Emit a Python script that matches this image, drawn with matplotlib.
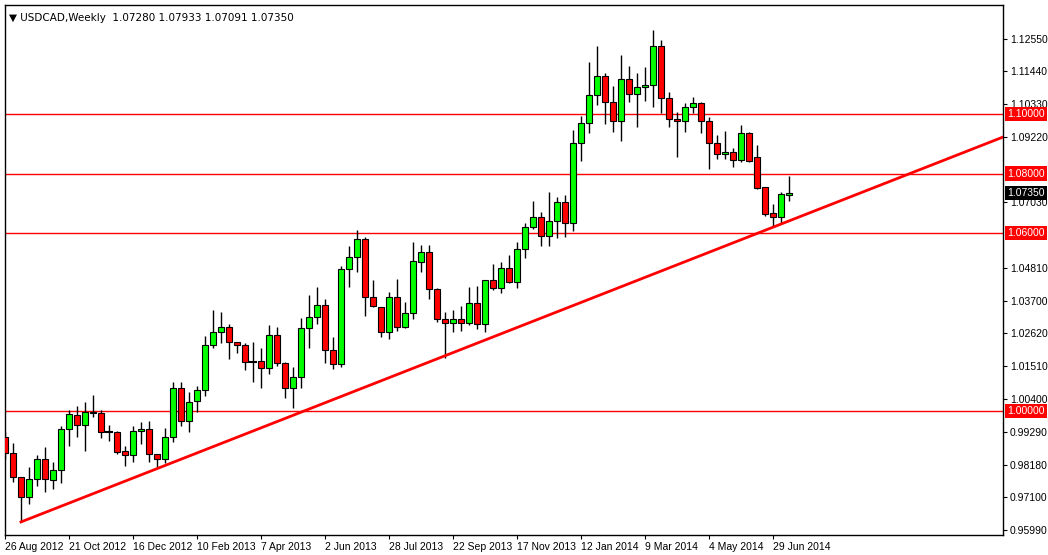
import numpy as np
import matplotlib.pyplot as plt
from matplotlib.patches import Rectangle

# weekly USDCAD candles, 26 Aug 2012 .. 13 Jul 2014
opens = [0.9912, 0.9859, 0.9778, 0.9710, 0.9771, 0.9838, 0.9768, 0.9801, 0.9939, 0.9987,
         0.9953, 0.9997, 0.9993, 0.9929, 0.9929, 0.9865, 0.9852, 0.9933, 0.9939, 0.9855,
         0.9838, 0.9912, 1.0078, 0.9966, 1.0034, 1.0071, 1.0222, 1.0266, 1.0283, 1.0233,
         1.0222, 1.0165, 1.0169, 1.0145, 1.0256, 1.0162, 1.0078, 1.0115, 1.0280, 1.0317,
         1.0357, 1.0206, 1.0158, 1.0479, 1.0519, 1.0580, 1.0384, 1.0351, 1.0266, 1.0384,
         1.0283, 1.0330, 1.0502, 1.0536, 1.0411, 1.0310, 1.0297, 1.0310, 1.0297, 1.0364,
         1.0293, 1.0441, 1.0415, 1.0482, 1.0435, 1.0546, 1.0620, 1.0654, 1.0590, 1.0640,
         1.0704, 1.0634, 1.0903, 1.0971, 1.1065, 1.1129, 1.1041, 1.0977, 1.1119, 1.1068,
         1.1092, 1.1099, 1.1230, 1.1055, 1.0984, 1.0977, 1.1025, 1.1038, 1.0977, 1.0903,
         1.0866, 1.0873, 1.0846, 1.0937, 1.0856, 1.0755, 1.0667, 1.0654, 1.07280]
highs = [0.9929, 0.9892, 0.9779, 0.9811, 0.9852, 0.9879, 0.9828, 0.9950, 1.0003, 1.0017,
         1.0030, 1.0054, 1.0003, 0.9953, 0.9933, 0.9882, 0.9950, 0.9963, 0.9966, 0.9856,
         0.9943, 1.0098, 1.0098, 1.0064, 1.0084, 1.0253, 1.0340, 1.0334, 1.0293, 1.0234,
         1.0229, 1.0233, 1.0212, 1.0290, 1.0283, 1.0165, 1.0148, 1.0313, 1.0391, 1.0418,
         1.0378, 1.0249, 1.0489, 1.0556, 1.0610, 1.0586, 1.0442, 1.0352, 1.0401, 1.0445,
         1.0367, 1.0570, 1.0559, 1.0559, 1.0415, 1.0334, 1.0340, 1.0354, 1.0418, 1.0421,
         1.0442, 1.0495, 1.0502, 1.0526, 1.0570, 1.0634, 1.0708, 1.0671, 1.0738, 1.0721,
         1.0728, 1.0947, 1.0994, 1.1176, 1.1230, 1.1139, 1.1095, 1.1200, 1.1163, 1.1139,
         1.1159, 1.1284, 1.1250, 1.1075, 1.1008, 1.1038, 1.1058, 1.1041, 1.0991, 1.0930,
         1.0944, 1.0886, 1.0964, 1.0941, 1.0896, 1.0756, 1.0698, 1.0738, 1.07933]
lows = [0.9838, 0.9761, 0.9626, 0.9687, 0.9747, 0.9727, 0.9737, 0.9757, 0.9882, 0.9912,
        0.9865, 0.9980, 0.9909, 0.9899, 0.9855, 0.9815, 0.9828, 0.9889, 0.9828, 0.9808,
        0.9825, 0.9896, 0.9950, 0.9929, 0.9997, 1.0051, 1.0212, 1.0229, 1.0175, 1.0196,
        1.0138, 1.0098, 1.0078, 1.0125, 1.0152, 1.0044, 1.0010, 1.0078, 1.0212, 1.0293,
        1.0162, 1.0142, 1.0148, 1.0418, 1.0469, 1.0320, 1.0351, 1.0249, 1.0243, 1.0270,
        1.0280, 1.0310, 1.0469, 1.0378, 1.0300, 1.0179, 1.0266, 1.0270, 1.0290, 1.0276,
        1.0266, 1.0408, 1.0398, 1.0431, 1.0415, 1.0516, 1.0613, 1.0556, 1.0556, 1.0583,
        1.0586, 1.0607, 1.0843, 1.0937, 1.1031, 1.0967, 1.0940, 1.0910, 1.1041, 1.0957,
        1.1045, 1.1025, 1.1004, 1.0957, 1.0856, 1.0940, 1.1004, 1.0937, 1.0816, 1.0849,
        1.0849, 1.0822, 1.0839, 1.0839, 1.0748, 1.0657, 1.0620, 1.0630, 1.07091]
closes = [0.9859, 0.9778, 0.9710, 0.9771, 0.9838, 0.9771, 0.9801, 0.9939, 0.9990, 0.9953,
          0.9997, 0.9993, 0.9929, 0.9926, 0.9862, 0.9852, 0.9933, 0.9939, 0.9855, 0.9838,
          0.9912, 1.0078, 0.9966, 1.0030, 1.0071, 1.0222, 1.0266, 1.0283, 1.0233, 1.0222,
          1.0165, 1.0164, 1.0145, 1.0256, 1.0162, 1.0078, 1.0115, 1.0280, 1.0317, 1.0357,
          1.0206, 1.0158, 1.0479, 1.0519, 1.0580, 1.0384, 1.0354, 1.0266, 1.0384, 1.0283,
          1.0330, 1.0506, 1.0536, 1.0411, 1.0310, 1.0297, 1.0310, 1.0297, 1.0364, 1.0293,
          1.0441, 1.0415, 1.0482, 1.0435, 1.0546, 1.0620, 1.0654, 1.0590, 1.0640, 1.0704,
          1.0634, 1.0903, 1.0971, 1.1065, 1.1129, 1.1041, 1.0977, 1.1119, 1.1068, 1.1092,
          1.1099, 1.1230, 1.1055, 1.0984, 1.0977, 1.1025, 1.1038, 1.0977, 1.0903, 1.0866,
          1.0873, 1.0846, 1.0937, 1.0843, 1.0752, 1.0664, 1.0654, 1.0731, 1.07350]

date_labels = ['26 Aug 2012', '21 Oct 2012', '16 Dec 2012', '10 Feb 2013', '7 Apr 2013',
               '2 Jun 2013', '28 Jul 2013', '22 Sep 2013', '17 Nov 2013', '12 Jan 2014',
               '9 Mar 2014', '4 May 2014', '29 Jun 2014']
# 1.08110 and 1.05920 sit under the level boxes, so they are left out
price_ticks = [1.12550, 1.11440, 1.10330, 1.09220, 1.07030, 1.04810,
               1.03700, 1.02620, 1.01510, 1.00400, 0.99290, 0.98180, 0.97100, 0.95990]
levels = [1.10000, 1.08000, 1.06000, 1.00000]
trend_idx = [2, 124.75]
trend_px = [0.9626, 1.0923]

plt.rcParams['font.family'] = ['Liberation Sans', 'DejaVu Sans']

W, H = 1048, 555
fig = plt.figure(figsize=(W / 100, H / 100), dpi=100)
ax = fig.add_axes([5 / W, 20 / H, 998 / W, 530 / H])

n = len(opens)
for i in range(n):
    o, h, l, c = opens[i], highs[i], lows[i], closes[i]
    ax.plot([i, i], [l, h], color='black', lw=1, zorder=2, solid_capstyle='butt')
    col = '#00ff00' if c > o else '#ff0000'
    lo, hi = min(o, c), max(o, c)
    if hi - lo < 0.0003:
        ax.plot([i - 0.35, i + 0.35], [o, o], color='black', lw=1.5, zorder=3)
    else:
        ax.add_patch(Rectangle((i - 0.35, lo), 0.7, hi - lo, facecolor=col,
                               edgecolor='black', lw=0.8, zorder=3))

for lv in levels:
    ax.axhline(lv, color='#ff0000', lw=1, zorder=1)
ax.plot(trend_idx, trend_px, color='#ff0000', lw=2, zorder=4)

ax.set_xlim(0, 124.75)
ax.set_ylim(0.9582, 1.1368)

ax.yaxis.tick_right()
ax.set_yticks(price_ticks)
ax.set_yticklabels(['%.5f' % v for v in price_ticks])
ax.set_xticks(np.arange(0, 8 * len(date_labels), 8))
ax.set_xticklabels(date_labels, ha='left')
ax.tick_params(axis='both', labelsize=7.5, length=3, width=0.8, colors='black', pad=2)
for sp in ax.spines.values():
    sp.set_linewidth(1)

def price_box(val, face):
    ax.annotate('%.5f' % val, xy=(1, val), xycoords=('axes fraction', 'data'),
                xytext=(3, 0), textcoords='offset points', va='center', ha='left',
                fontsize=7.5, color='white', zorder=10, annotation_clip=False,
                bbox=dict(boxstyle='square,pad=0.2', fc=face, ec='none'))

for lv in levels:
    price_box(lv, '#ff0000')
price_box(closes[-1], 'black')

ax.text(0.004, 0.985, '\u25bc USDCAD,Weekly  %.5f %.5f %.5f %.5f'
        % (opens[-1], highs[-1], lows[-1], closes[-1]),
        transform=ax.transAxes, fontsize=7.5, va='top', ha='left',
        family=['DejaVu Sans'])

fig.savefig('out.png', dpi=100)
